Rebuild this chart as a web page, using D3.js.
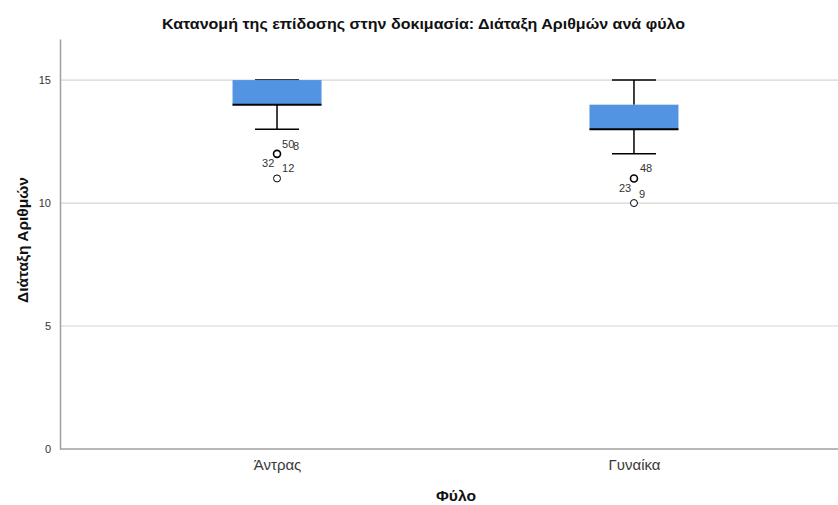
<!DOCTYPE html>
<html><head><meta charset="utf-8">
<script src="https://cdn.jsdelivr.net/npm/d3@7"></script>
<style>body{margin:0;background:#fff}svg{display:block}text{font-family:"Liberation Sans",Arial,sans-serif}</style>
</head><body><svg id="c" width="838" height="505"></svg>
<script>
const categories = ["Άντρας", "Γυναίκα"];
const q1 = [14, 13];
const median = [14, 13];
const q3 = [15, 14];
const whiskerLow = [13, 12];
const whiskerHigh = [15, 15];
const outlierValues = [[12, 11], [11, 10]];
const outlierLabels = [
  [{v:12, t:"50", dx:5, dy:-6}, {v:12, t:"8", dx:16, dy:-4}, {v:12, t:"32", dx:-15, dy:13}, {v:11, t:"12", dx:5, dy:-6}],
  [{v:11, t:"48", dx:6, dy:-6}, {v:11, t:"23", dx:-15, dy:14}, {v:10, t:"9", dx:5, dy:-5}]
];
const yTicks = [0, 5, 10, 15];

const svg = d3.select("#c");
const pLeft = 60, pRight = 838, pTop = 39, pBottom = 449;
const y = d3.scaleLinear().domain([0, 16.67]).range([pBottom, pTop]);
const x = d3.scalePoint().domain(categories).range([60, 851]).padding(0.608);
const boxW = 89, capW = 44;

svg.append("g").selectAll("line").data(yTicks.filter(d => d > 0)).join("line")
  .attr("x1", pLeft).attr("x2", pRight).attr("y1", d => y(d)).attr("y2", d => y(d))
  .attr("stroke", "#d6d6d6").attr("stroke-width", 1.2);

const ya = svg.append("g").attr("transform", `translate(${pLeft},0)`)
  .call(d3.axisLeft(y).tickValues(yTicks).tickSize(0).tickPadding(9));
ya.select(".domain").attr("stroke", "#a0a0a0").attr("stroke-width", 1.5);
ya.selectAll("text").attr("font-size", 11).attr("fill", "#333");
const xa = svg.append("g").attr("transform", `translate(0,${pBottom})`)
  .call(d3.axisBottom(x).tickSize(0).tickPadding(10));
xa.select(".domain").attr("d", `M${pLeft},0H${pRight}`).attr("stroke", "#a0a0a0").attr("stroke-width", 1.5);
xa.selectAll("text").attr("font-size", 15).attr("fill", "#3a3a3a");

const g = svg.append("g");
categories.forEach((c, i) => {
  const cx = x(c);
  g.append("line").attr("x1", cx).attr("x2", cx).attr("y1", y(q3[i])).attr("y2", y(whiskerHigh[i])).attr("stroke", "#000").attr("stroke-width", 1.5);
  g.append("line").attr("x1", cx).attr("x2", cx).attr("y1", y(q1[i])).attr("y2", y(whiskerLow[i])).attr("stroke", "#000").attr("stroke-width", 1.5);
  [whiskerLow[i], whiskerHigh[i]].forEach(v => {
    g.append("line").attr("x1", cx - capW/2).attr("x2", cx + capW/2).attr("y1", y(v)).attr("y2", y(v)).attr("stroke", "#000").attr("stroke-width", 1.5);
  });
  g.append("rect").attr("x", cx - boxW/2).attr("width", boxW)
    .attr("y", y(q3[i])).attr("height", y(q1[i]) - y(q3[i])).attr("fill", "#5294e2");
  g.append("line").attr("x1", cx - boxW/2).attr("x2", cx + boxW/2).attr("y1", y(median[i])).attr("y2", y(median[i])).attr("stroke", "#000").attr("stroke-width", 2);
  outlierValues[i].forEach((v, k) => {
    g.append("circle").attr("cx", cx).attr("cy", y(v)).attr("r", 3.5).attr("fill", "#fff")
      .attr("stroke", "#000").attr("stroke-width", k === 0 ? 1.6 : 1);
  });
  outlierLabels[i].forEach(l => {
    g.append("text").attr("x", cx + l.dx).attr("y", y(l.v) + l.dy).attr("font-size", 11).attr("fill", "#333").text(l.t);
  });
});

svg.append("text").attr("x", 423.5).attr("y", 29).attr("text-anchor", "middle").attr("font-size", 14).attr("font-weight", "bold").attr("fill", "#111")
  .attr("textLength", 523).attr("lengthAdjust", "spacingAndGlyphs")
  .text("Κατανομή της επίδοσης στην δοκιμασία: Διάταξη Αριθμών ανά φύλο");
svg.append("text").attr("transform", `translate(28,240) rotate(-90)`).attr("text-anchor", "middle").attr("font-size", 14).attr("font-weight", "bold").attr("fill", "#111")
  .attr("textLength", 126).attr("lengthAdjust", "spacingAndGlyphs")
  .text("Διάταξη Αριθμών");
svg.append("text").attr("x", 456).attr("y", 501).attr("text-anchor", "middle").attr("font-size", 14).attr("font-weight", "bold").attr("fill", "#111")
  .attr("textLength", 40).attr("lengthAdjust", "spacingAndGlyphs")
  .text("Φύλο");
</script></body></html>
